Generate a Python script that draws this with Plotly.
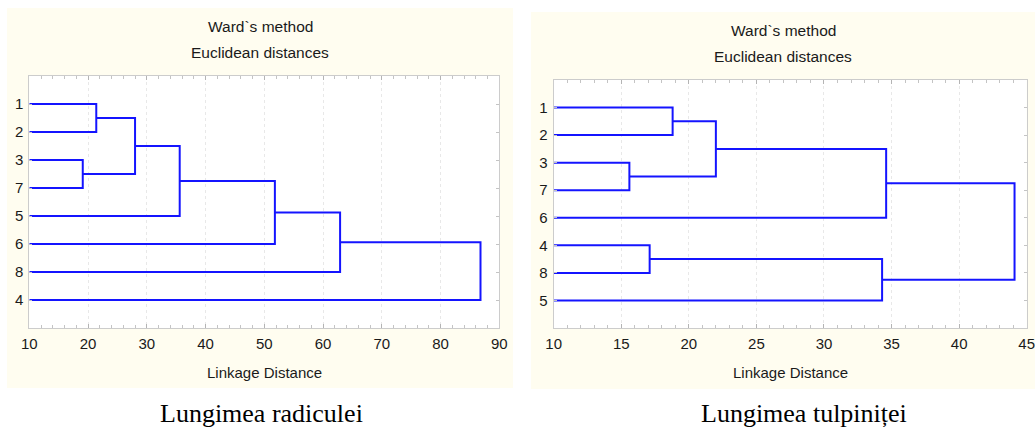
import plotly.graph_objects as go

# ---------------- data ----------------
left_leaves = ["1", "2", "3", "7", "5", "6", "8", "4"]
left_pairs = [(0, 1), (2, 3), (8, 9), (10, 4), (11, 5), (12, 6), (13, 7)]
left_heights = [21.4, 19.1, 28.0, 35.6, 51.8, 62.9, 86.8]
left_xticks = [10, 20, 30, 40, 50, 60, 70, 80, 90]

right_leaves = ["1", "2", "3", "7", "6", "4", "8", "5"]
right_pairs = [(0, 1), (2, 3), (8, 9), (10, 4), (5, 6), (12, 7), (11, 13)]
right_heights = [18.8, 15.6, 22.0, 34.6, 17.1, 34.3, 44.1]
right_xticks = [10, 15, 20, 25, 30, 35, 40, 45]

title1 = "Ward`s method"
title2 = "Euclidean distances"
xtitle = "Linkage Distance"
captions = ["Lungimea radiculei", "Lungimea tulpiniței"]

W, H = 1035, 428
BLUE = "rgb(20,20,255)"
PANEL = "#FFFDF0"
TXT = "#1a1a1a"
FONT = "Liberation Sans, Arial, sans-serif"


def dendro(leaves, pairs, heights, base):
    n = len(leaves)
    pos = {i: i + 1 for i in range(n)}
    hgt = {i: base for i in range(n)}
    xs, ys = [], []
    for k, ((a, b), h) in enumerate(zip(pairs, heights)):
        xs += [hgt[a], h, h, hgt[b], None]
        ys += [pos[a], pos[a], pos[b], pos[b], None]
        pos[n + k] = (pos[a] + pos[b]) / 2
        hgt[n + k] = h
    return xs, ys


def px(v):
    return v / W


def py(v):
    return 1 - v / H


fig = go.Figure()

lx, ly = dendro(left_leaves, left_pairs, left_heights, left_xticks[0])
rx, ry = dendro(right_leaves, right_pairs, right_heights, right_xticks[0])

fig.add_trace(go.Scatter(x=lx, y=ly, mode="lines", line=dict(color=BLUE, width=2),
                         xaxis="x", yaxis="y", showlegend=False, hoverinfo="skip"))
fig.add_trace(go.Scatter(x=rx, y=ry, mode="lines", line=dict(color=BLUE, width=2),
                         xaxis="x2", yaxis="y2", showlegend=False, hoverinfo="skip"))

L_box = (29.3, 76, 499.3, 328)
R_box = (553.7, 80, 1026.7, 328)

# panel backgrounds, then white plot areas
panels = [(7, 8, 513, 388), (531, 12, 1035, 389)]
shapes = []
for x0, y0, x1, y1 in panels:
    shapes.append(dict(type="rect", xref="paper", yref="paper",
                       x0=px(x0), x1=px(x1), y0=py(y1), y1=py(y0),
                       fillcolor=PANEL, line=dict(width=0), layer="below"))
for x0, y0, x1, y1 in [L_box, R_box]:
    shapes.append(dict(type="rect", xref="paper", yref="paper",
                       x0=px(x0), x1=px(x1), y0=py(y1), y1=py(y0),
                       fillcolor="white", line=dict(width=0), layer="below"))

L_dom_x = [px(L_box[0]), px(L_box[2])]
L_dom_y = [py(L_box[3]), py(L_box[1])]
R_dom_x = [px(R_box[0]), px(R_box[2])]
R_dom_y = [py(R_box[3]), py(R_box[1])]


def xaxis(dom, ticks, minor_dt, anchor):
    return dict(domain=dom, range=[ticks[0], ticks[-1]], tickvals=ticks,
                ticks="inside", ticklen=4, tickcolor="#b4b4b4",
                showline=True, linecolor="#cccccc", linewidth=1, mirror="allticks",
                showgrid=True, gridcolor="#e8e8e8", griddash="dot", gridwidth=1,
                minor=dict(ticks="inside", ticklen=3, dtick=minor_dt, tick0=ticks[0],
                           tickcolor="#c4c4c4", showgrid=False),
                zeroline=False, anchor=anchor, fixedrange=True, automargin=False,
                ticklabelstandoff=2, ticklabeloverflow="allow",
                tickfont=dict(family=FONT, size=15, color=TXT))


def yaxis(dom, leaves, anchor):
    return dict(domain=dom, range=[9, 0], tickvals=list(range(1, len(leaves) + 1)),
                ticktext=leaves, ticks="inside", ticklen=3, tickcolor="#c4c4c4",
                showline=True, linecolor="#cccccc", linewidth=1, mirror="allticks",
                showgrid=False, zeroline=False, anchor=anchor, fixedrange=True,
                automargin=False, ticklabelstandoff=2, ticklabeloverflow="allow",
                tickfont=dict(family=FONT, size=15, color=TXT))


annotations = []
for cx, yt1, yt2 in [(260, 27, 52.5), (783, 30.5, 57)]:
    annotations.append(dict(text=title1, x=px(cx), y=py(yt1), xref="paper", yref="paper",
                            showarrow=False, xanchor="center", yanchor="middle",
                            font=dict(family=FONT, size=15.5, color=TXT)))
    annotations.append(dict(text=title2, x=px(cx), y=py(yt2), xref="paper", yref="paper",
                            showarrow=False, xanchor="center", yanchor="middle",
                            font=dict(family=FONT, size=15.5, color=TXT)))
for cx in [264.3, 790.2]:
    annotations.append(dict(text=xtitle, x=px(cx), y=py(372), xref="paper", yref="paper",
                            showarrow=False, xanchor="center", yanchor="middle",
                            font=dict(family=FONT, size=15, color=TXT)))
for cx, cap in zip([261.5, 803.5], captions):
    annotations.append(dict(text=cap, x=px(cx), y=py(413), xref="paper", yref="paper",
                            showarrow=False, xanchor="center", yanchor="middle",
                            font=dict(family="Liberation Serif, Times New Roman, serif",
                                      size=26, color="#000000")))

fig.update_layout(
    width=W, height=H, margin=dict(l=0, r=0, t=0, b=0, pad=0, autoexpand=False),
    paper_bgcolor="white", plot_bgcolor="white",
    xaxis=xaxis(L_dom_x, left_xticks, 2, "y"),
    yaxis=yaxis(L_dom_y, left_leaves, "x"),
    xaxis2=xaxis(R_dom_x, right_xticks, 1, "y2"),
    yaxis2=yaxis(R_dom_y, right_leaves, "x2"),
    shapes=shapes, annotations=annotations,
)

fig.write_html("out.html", config={"displayModeBar": False, "staticPlot": True},
               post_script="document.body.style.margin='0';document.body.style.padding='0';"
                           "document.body.style.overflow='hidden';")
